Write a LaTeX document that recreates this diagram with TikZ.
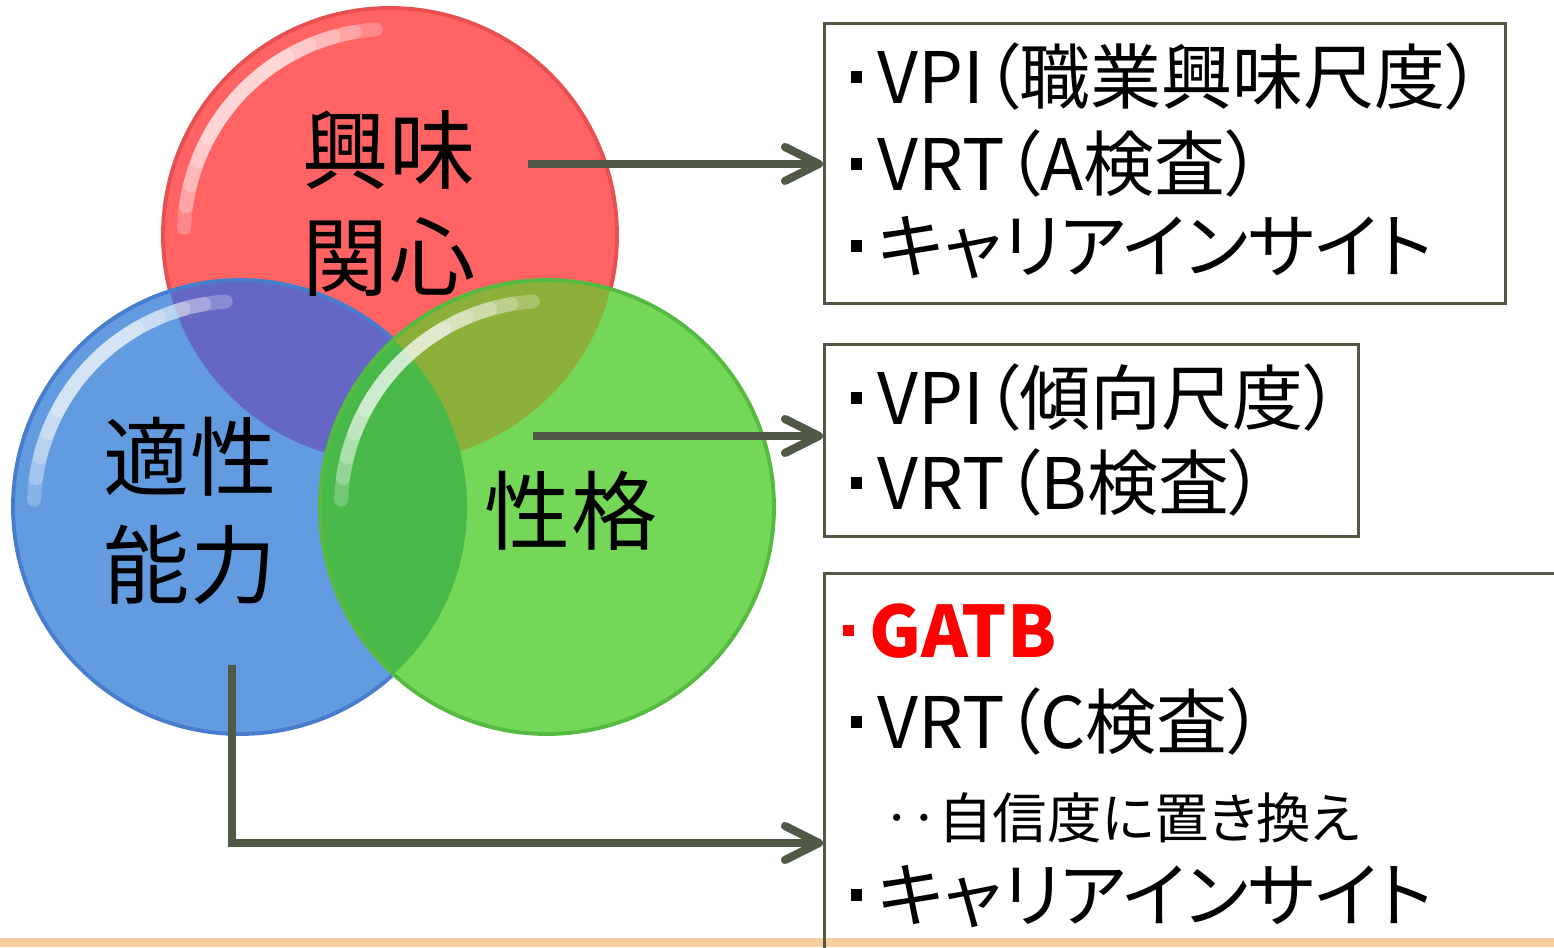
\documentclass[tikz,border=0pt]{standalone}
\usepackage{fontspec}
\setmainfont{Noto Sans CJK JP}[RawFeature=+palt]
\usetikzlibrary{arrows.meta}

\definecolor{ballred}{RGB}{255,99,99}
\definecolor{redrim}{RGB}{232,80,80}
\definecolor{ballblue}{RGB}{98,155,224}
\definecolor{bluerim}{RGB}{72,124,204}
\definecolor{ballgreen}{RGB}{116,215,87}
\definecolor{greenrim}{RGB}{84,186,64}
\definecolor{rbmix}{RGB}{100,104,196}
\definecolor{rgmix}{RGB}{140,176,58}
\definecolor{bgmix}{RGB}{72,184,72}
\definecolor{linegray}{RGB}{79,89,70}
\definecolor{stripe}{RGB}{247,206,158}

% small square bullet in front of each item
\newcommand{\blt}{\rule[0.3em]{0.16em}{0.16em}\hspace{0.22em}}
% soft white gloss on the upper left of a ball
\newcommand{\shine}[1]{%
  \foreach \s/\e in {94/178,100/172,106/166,113/159,120/152}
    \draw[white, line width=4pt, opacity=0.24, line cap=round]
      ([shift={(\s:2.06cm)}]#1.center) arc[start angle=\s, end angle=\e, radius=2.06cm];
}

\tikzset{
  ball/.style={circle, minimum size=4.54cm, inner sep=0pt},
  label/.style={align=center, inner sep=0pt, font=\fontsize{24.5}{30.5}\selectfont},
  listbox/.style={draw=linegray, line width=0.9pt, inner sep=0pt},
  item/.style={anchor=west, inner sep=0pt, font=\fontsize{20.2}{24}\selectfont},
  note/.style={anchor=west, inner sep=0pt, font=\fontsize{15.5}{19}\selectfont},
  link/.style={draw=linegray, line width=2.3pt,
    -{Straight Barb[length=3.4mm, width=3.4mm, line cap=round, line join=round]}},
}

\begin{document}
\begin{tikzpicture}
  \useasboundingbox (0,0) rectangle (15.54,9.47);
  \clip (0,0) rectangle (15.54,9.47);

  % three balls
  \node[ball, fill=ballred, draw=redrim, line width=1.1pt] at (3.90,7.12) (ball1) {};
  \node[ball, fill=ballblue] at (2.40,4.40) (ball2) {};
  \node[ball, fill=ballgreen] at (5.47,4.40) (ball3) {};

  % overlaps
  \begin{scope}
    \clip (ball1.center) circle (2.27cm);
    \fill[rbmix] (ball2.center) circle (2.27cm);
    \fill[rgmix] (ball3.center) circle (2.27cm);
  \end{scope}
  \begin{scope}
    \clip (ball2.center) circle (2.27cm);
    \fill[bgmix] (ball3.center) circle (2.27cm);
  \end{scope}

  \draw[bluerim, line width=1.1pt] ([shift={(48:2.27cm)}]ball2.center)
    arc[start angle=48, end angle=312, radius=2.27cm];
  \draw[greenrim, line width=1.1pt] (ball3.center) circle (2.27cm);
  \shine{ball1}
  \shine{ball2}
  \shine{ball3}

  \node[label] at (3.89,7.435) (t1) {興味\\関心};
  \node[label] at (1.90,4.36) (t2) {適性\\能力};
  \node[label] at (5.71,4.36) (t3) {性格};

  \fill[stripe] (0,0) rectangle (15.54,0.09);

  % lists
  \node[listbox, anchor=north west, minimum width=6.81cm, minimum height=2.80cm] at (8.23,9.25) (box1) {};
  \node[item] at (8.50,8.70) (l11) {\blt VPI（職業興味尺度）};
  \node[item] at (8.50,7.83) (l12) {\blt VRT（A検査）};
  \node[item] at (8.50,6.99) (l13) {\blt キャリアインサイト};

  \node[listbox, anchor=north west, minimum width=5.34cm, minimum height=1.92cm] at (8.23,6.04) (box2) {};
  \node[item] at (8.50,5.49) (l21) {\blt VPI（傾向尺度）};
  \node[item] at (8.50,4.64) (l22) {\blt VRT（B検査）};

  \node[listbox, anchor=north west, minimum width=8cm, minimum height=5cm] at (8.23,3.75) (box3) {};
  \node[item, text=red, font=\fontsize{20.2}{24}\selectfont\bfseries] at (8.42,3.16) (l31) {\blt GATB};
  \node[item] at (8.50,2.25) (l32) {\blt VRT（C検査）};
  \node[note] at (8.83,1.29) (l33) {‥自信度に置き換え};
  \node[item] at (8.50,0.50) (l34) {\blt キャリアインサイト};

  % arrows
  \coordinate (a1) at (5.28,7.83);
  \coordinate (a2) at (5.33,5.11);
  \coordinate (a3) at (2.32,2.82);
  \draw[link] (a1) -- (a1 -| box1.west);
  \draw[link] (a2) -- (a2 -| box2.west);
  \draw[link] (a3) |- (box3.west |- 0,1.04);
\end{tikzpicture}
\end{document}
